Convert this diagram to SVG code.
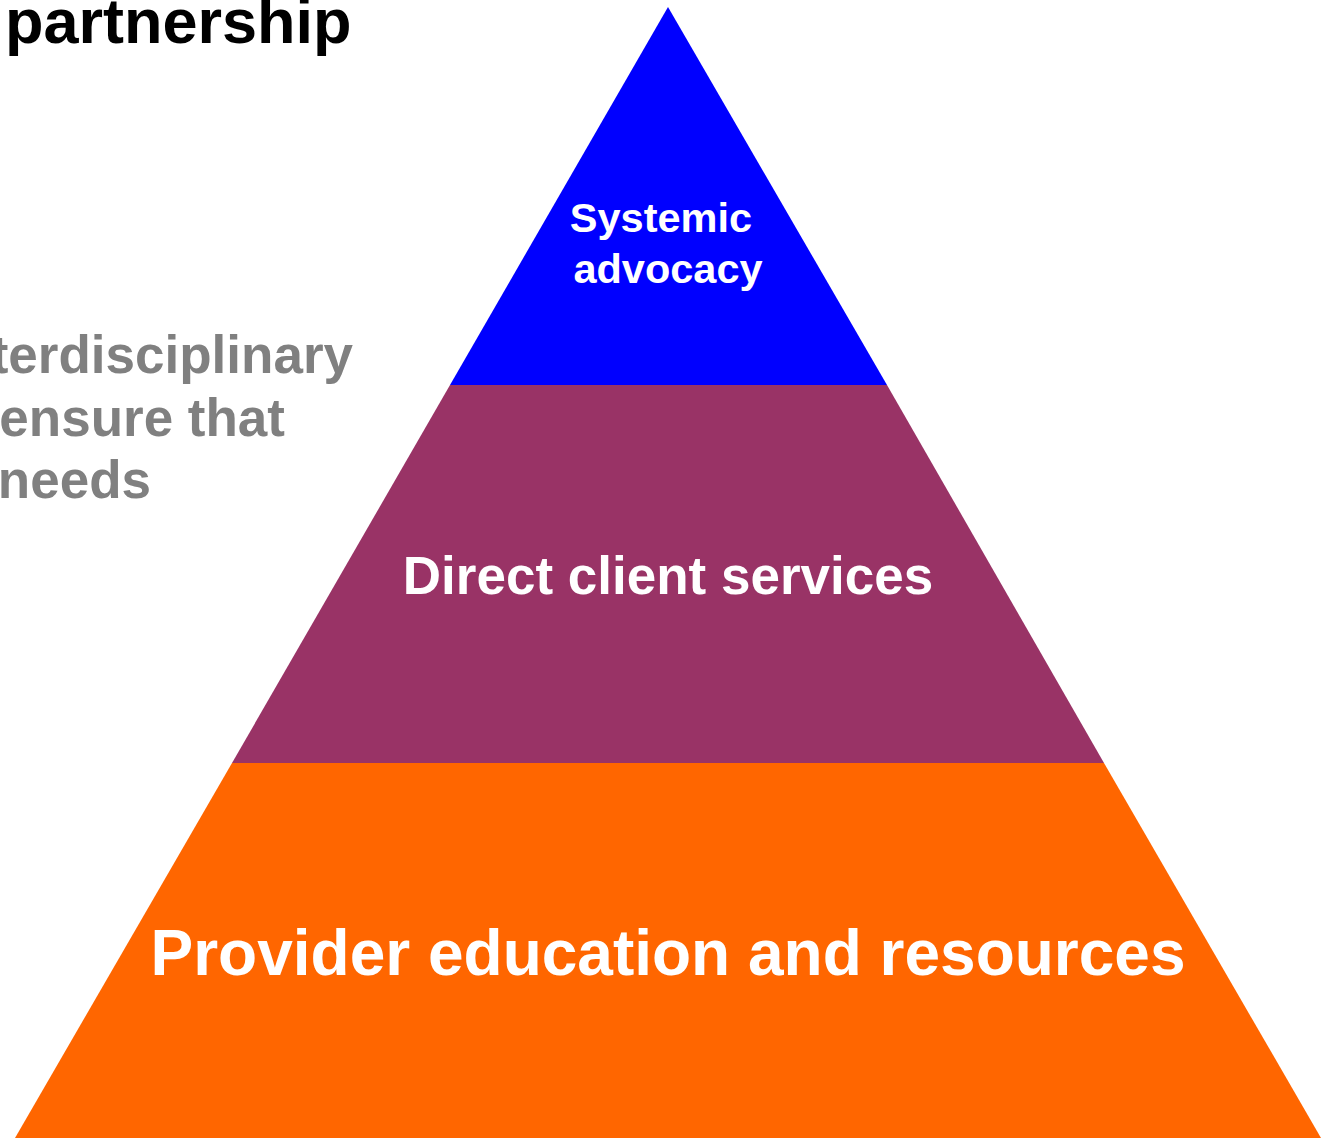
<svg xmlns="http://www.w3.org/2000/svg" width="1330" height="1138" viewBox="0 0 1330 1138">
<style>
text{font-family:"Liberation Sans",Arial,sans-serif;font-weight:bold}
.w{fill:#fff;text-anchor:middle}
.g{fill:#808080;font-size:53px;text-anchor:end}
</style>
<rect width="1330" height="1138" fill="#fff"/>
<g id="title"><text x="5" y="43" font-size="63" fill="#000">partnership</text></g>
<g id="side-text">
<text class="g" x="353" y="373">terdisciplinary</text>
<text class="g" x="285" y="436">ensure that</text>
<text class="g" x="151" y="498">needs</text>
</g>
<g id="tier-top">
<polygon points="668,7 887,385 450,385" fill="#0000FF"/>
<text class="w" x="661" y="232" font-size="41.5">Systemic</text>
<text class="w" x="668" y="283" font-size="41.5">advocacy</text>
</g>
<g id="tier-middle">
<polygon points="450,385 887,385 1104,763 232,763" fill="#993366"/>
<text class="w" x="668" y="594" font-size="53">Direct client services</text>
</g>
<g id="tier-bottom">
<polygon points="232,763 1104,763 1321,1138 15,1138" fill="#FF6600"/>
<text class="w" x="668" y="975" font-size="64">Provider education and resources</text>
</g>
<g id="connectors"/>
</svg>
